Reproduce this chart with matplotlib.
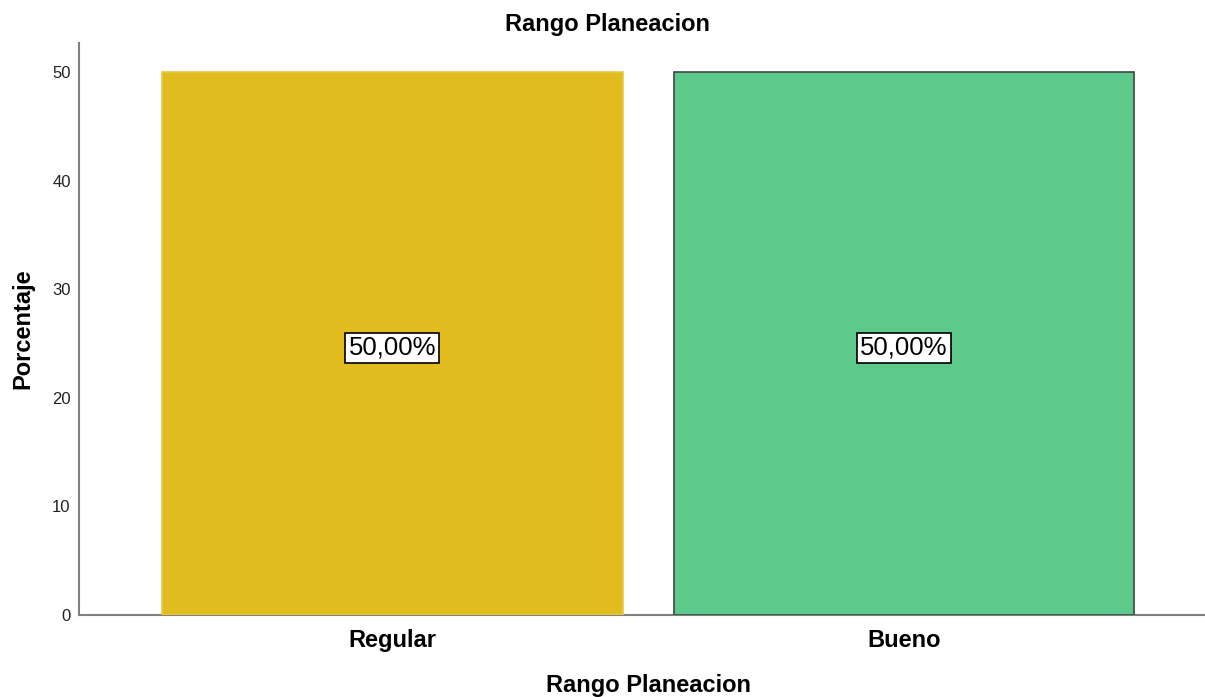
import matplotlib.pyplot as plt

# datos
categorias = ["Regular", "Bueno"]
porcentajes = [50.0, 50.0]
colores = ["#E1BC1E", "#5DC98A"]
bordes = ["#E8C84A", "#3A4A40"]
yticks = [0, 10, 20, 30, 40, 50]

plt.rcParams['font.family'] = ['Liberation Sans', 'DejaVu Sans']

fig = plt.figure(figsize=(12.05, 6.97), dpi=100)
ax = fig.add_axes([0.0656, 0.1176, 0.934, 0.8207])

pos = list(range(len(categorias)))
bars = ax.bar(pos, porcentajes, width=0.9, color=colores, edgecolor=bordes,
              linewidth=1.2, zorder=3)

for b, v in zip(bars, porcentajes):
    etiqueta = f"{v:.2f}%".replace(".", ",")
    ax.annotate(etiqueta, (b.get_x() + b.get_width() / 2, v / 2),
                xytext=(0, -3), textcoords="offset points",
                ha="center", va="center", fontsize=18.5, color="black", zorder=5,
                bbox=dict(boxstyle="square,pad=0.12", fc="white", ec="black", lw=1.2))

ax.set_xlim(-0.612, 1.587)
ax.set_ylim(0, 52.7)
ax.set_xticks(pos)
ax.set_xticklabels(categorias, fontsize=17, fontweight="bold")
ax.set_yticks(yticks)
ax.set_yticklabels([str(t) for t in yticks], fontsize=12, color="#222222")
ax.tick_params(axis="both", length=0)
ax.tick_params(axis="y", pad=6)
ax.tick_params(axis="x", pad=10)

for s in ["top", "right"]:
    ax.spines[s].set_visible(False)
for s in ["left", "bottom"]:
    ax.spines[s].set_color("#808080")
    ax.spines[s].set_linewidth(1.5)

ax.set_ylabel("Porcentaje", fontsize=17, fontweight="bold", labelpad=13)
fig.text(0.538, 0.017, "Rango Planeacion", ha="center", va="center",
         fontsize=17, fontweight="bold")
fig.text(0.504, 0.965, "Rango Planeacion", ha="center", va="center",
         fontsize=17, fontweight="bold")

fig.savefig("out.png", dpi=100)
